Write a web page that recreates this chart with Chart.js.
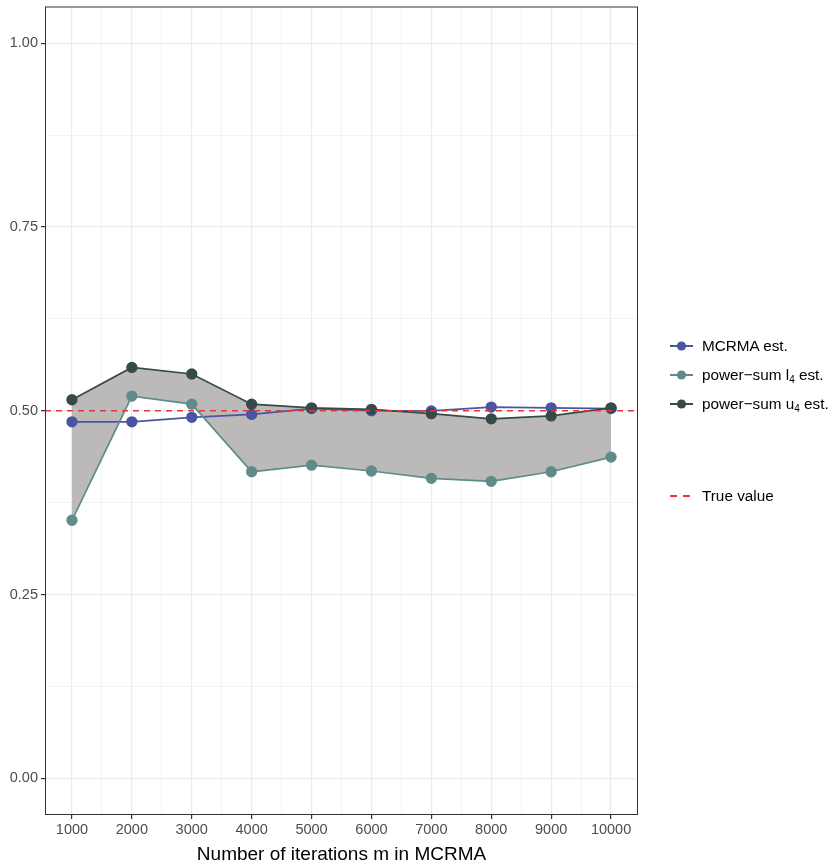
<!DOCTYPE html>
<html>
<head>
<meta charset="utf-8">
<script src="https://cdn.jsdelivr.net/npm/chart.js@4"></script>
<style>
  body { margin: 0; background: #fff; font-family: "Liberation Sans", Arial, sans-serif; }
  #wrap { position: relative; width: 829px; height: 867px; overflow: hidden; }
  .leg { position: absolute; left: 670px; font-size: 15.3px; color: #000; display: flex; align-items: center; height: 20px; white-space: nowrap; }
  .leg svg { margin-right: 9px; flex: none; }
  .leg sub { font-size: 10px; vertical-align: -3px; line-height: 0; }
</style>
</head>
<body>
<div id="wrap">
  <canvas id="chart" width="829" height="867"></canvas>
  <div class="leg" style="top:336px"><svg width="23" height="12"><line x1="0" y1="6" x2="23" y2="6" stroke="#4a55a2" stroke-width="2"/><circle cx="11.5" cy="6" r="4.6" fill="#4a55a2"/></svg><span>MCRMA est.</span></div>
  <div class="leg" style="top:365px"><svg width="23" height="12"><line x1="0" y1="6" x2="23" y2="6" stroke="#5f8b89" stroke-width="2"/><circle cx="11.5" cy="6" r="4.6" fill="#5f8b89"/></svg><span>power&minus;sum l<sub>4</sub> est.</span></div>
  <div class="leg" style="top:394px"><svg width="23" height="12"><line x1="0" y1="6" x2="23" y2="6" stroke="#364b49" stroke-width="2"/><circle cx="11.5" cy="6" r="4.6" fill="#364b49"/></svg><span>power&minus;sum u<sub>4</sub> est.</span></div>
  <div class="leg" style="top:486px"><svg width="23" height="12"><line x1="0" y1="6" x2="23" y2="6" stroke="#e3373c" stroke-width="2" stroke-dasharray="7,6"/></svg><span>True value</span></div>
</div>
<script>
// estimates by number of MCRMA iterations
const iterations = [1000, 2000, 3000, 4000, 5000, 6000, 7000, 8000, 9000, 10000];
const mcrmaEst = [0.485, 0.485, 0.491, 0.495, 0.503, 0.500, 0.4997, 0.505, 0.504, 0.503];
const lowerEst = [0.351, 0.520, 0.509, 0.417, 0.426, 0.418, 0.408, 0.404, 0.417, 0.437];
const upperEst = [0.515, 0.559, 0.550, 0.509, 0.504, 0.502, 0.496, 0.489, 0.493, 0.504];
const trueValue = 0.5;
const yTicks = [0, 0.125, 0.25, 0.375, 0.5, 0.625, 0.75, 0.875, 1];
const xTicks = [1000, 1500, 2000, 2500, 3000, 3500, 4000, 4500, 5000, 5500, 6000, 6500, 7000, 7500, 8000, 8500, 9000, 9500, 10000];

const pts = arr => arr.map((v, i) => ({ x: iterations[i], y: v }));
const isMajorY = v => Math.abs(v * 4 - Math.round(v * 4)) < 1e-6;
const isMajorX = v => v % 1000 === 0;

const panelBorder = {
  id: 'panelBorder',
  afterDraw(chart) {
    const a = chart.chartArea, ctx = chart.ctx;
    ctx.save();
    ctx.strokeStyle = '#333333';
    ctx.lineWidth = 1;
    ctx.strokeRect(a.left + 0.5, a.top + 0.5, a.right - a.left - 1, a.bottom - a.top - 1);
    ctx.restore();
  }
};

new Chart('chart', {
  type: 'line',
  data: {
    datasets: [
      {
        label: 'True value',
        data: [{ x: 550, y: trueValue }, { x: 10450, y: trueValue }],
        borderColor: '#e3373c',
        borderWidth: 1.6,
        borderDash: [6, 5],
        pointRadius: 0,
        fill: false,
        order: 0
      },
      {
        label: 'power-sum u4 est.',
        data: pts(upperEst),
        borderColor: '#364b49',
        backgroundColor: '#364b49',
        borderWidth: 1.7,
        pointRadius: 4.8,
        fill: { target: 2, above: '#bcbab9', below: '#bcbab9' },
        order: 1
      },
      {
        label: 'power-sum l4 est.',
        data: pts(lowerEst),
        borderColor: '#5f8b89',
        backgroundColor: '#5f8b89',
        borderWidth: 1.7,
        pointRadius: 4.8,
        fill: false,
        order: 2
      },
      {
        label: 'MCRMA est.',
        data: pts(mcrmaEst),
        borderColor: '#4a55a2',
        backgroundColor: '#4a55a2',
        borderWidth: 1.7,
        pointRadius: 4.8,
        fill: false,
        order: 3
      }
    ]
  },
  options: {
    responsive: false,
    animation: false,
    layout: { padding: { left: 0, top: 5, right: 191, bottom: 0 } },
    plugins: {
      legend: { display: false },
      tooltip: { enabled: false },
      filler: { drawTime: 'beforeDatasetsDraw' }
    },
    scales: {
      x: {
        type: 'linear',
        min: 550,
        max: 10450,
        afterBuildTicks: s => { s.ticks = xTicks.map(v => ({ value: v })); },
        afterFit: s => { s.height = 52; s.paddingLeft = 0; s.paddingRight = 0; },
        border: { display: false },
        grid: {
          color: '#ebebeb',
          lineWidth: c => isMajorX(c.tick.value) ? 1.2 : 0.6,
          tickColor: c => isMajorX(c.tick.value) ? '#333333' : 'rgba(0,0,0,0)',
          tickLength: 4
        },
        ticks: {
          autoSkip: false,
          maxRotation: 0,
          padding: 2,
          color: '#4d4d4d',
          font: { family: 'Liberation Sans', size: 14.5 },
          callback: v => isMajorX(v) ? String(v) : ''
        },
        title: {
          display: true,
          text: 'Number of iterations m in MCRMA',
          color: '#000',
          font: { family: 'Liberation Sans', size: 19 },
          padding: { top: 0, bottom: 1 }
        }
      },
      y: {
        type: 'linear',
        min: -0.05,
        max: 1.05,
        afterBuildTicks: s => { s.ticks = yTicks.map(v => ({ value: v })); },
        afterFit: s => { s.width = 45; s.paddingTop = 0; s.paddingBottom = 0; },
        border: { display: false },
        grid: {
          color: '#ebebeb',
          lineWidth: c => isMajorY(c.tick.value) ? 1.2 : 0.6,
          tickColor: c => isMajorY(c.tick.value) ? '#333333' : 'rgba(0,0,0,0)',
          tickLength: 4
        },
        ticks: {
          padding: 3,
          color: '#4d4d4d',
          font: { family: 'Liberation Sans', size: 14.5 },
          callback: v => isMajorY(v) ? v.toFixed(2) : ''
        }
      }
    }
  },
  plugins: [panelBorder]
});
</script>
</body>
</html>
